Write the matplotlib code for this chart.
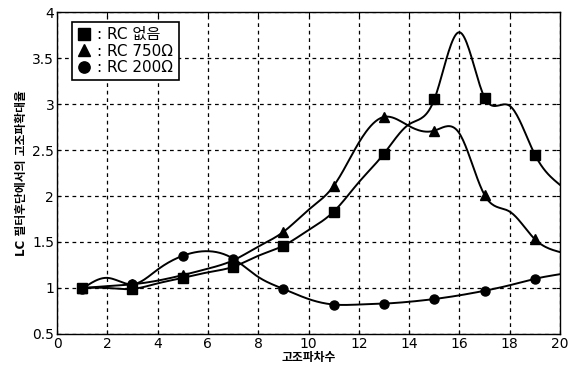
import numpy as np
import matplotlib.pyplot as plt

plt.rcParams["font.family"] = ["DejaVu Sans", "Noto Sans CJK KR"]
plt.rcParams["font.size"] = 10

# Harmonic order (1..20) and amplification factor at LC filter output
harmonic = np.arange(1, 21)

no_rc = [1.00, 1.00, 0.99, 1.05, 1.11, 1.17, 1.23, 1.35, 1.46, 1.63,
         1.83, 2.15, 2.46, 2.78, 3.05, 3.78, 3.07, 2.98, 2.45, 2.12]
rc_750 = [1.00, 1.02, 1.04, 1.08, 1.14, 1.21, 1.30, 1.45, 1.61, 1.85,
          2.11, 2.58, 2.86, 2.76, 2.71, 2.68, 2.01, 1.83, 1.53, 1.39]
rc_200 = [0.99, 1.11, 1.04, 1.20, 1.35, 1.40, 1.32, 1.12, 0.99, 0.88,
          0.82, 0.82, 0.83, 0.85, 0.88, 0.92, 0.97, 1.03, 1.10, 1.15]

series = [
    (no_rc, "s", ": RC 없음"),
    (rc_750, "^", ": RC 750Ω"),
    (rc_200, "o", ": RC 200Ω"),
]


def natural_spline(x, y, n=400):
    x = np.asarray(x, float)
    y = np.asarray(y, float)
    h = np.diff(x)
    m = len(x)
    A = np.zeros((m, m))
    b = np.zeros(m)
    A[0, 0] = A[-1, -1] = 1.0
    for i in range(1, m - 1):
        A[i, i - 1] = h[i - 1]
        A[i, i] = 2 * (h[i - 1] + h[i])
        A[i, i + 1] = h[i]
        b[i] = 3 * ((y[i + 1] - y[i]) / h[i] - (y[i] - y[i - 1]) / h[i - 1])
    c = np.linalg.solve(A, b)
    xs = np.linspace(x[0], x[-1], n)
    k = np.clip(np.searchsorted(x, xs) - 1, 0, m - 2)
    dx = xs - x[k]
    bb = (y[k + 1] - y[k]) / h[k] - h[k] * (2 * c[k] + c[k + 1]) / 3
    d = (c[k + 1] - c[k]) / (3 * h[k])
    return xs, y[k] + bb * dx + c[k] * dx ** 2 + d * dx ** 3


fig = plt.figure(figsize=(5.68, 3.65), dpi=100)
ax = fig.add_axes([0.1004, 0.085, 0.8856, 0.882])

for vals, marker, label in series:
    xs, ys = natural_spline(harmonic, vals)
    ax.plot(xs, ys, color="black", lw=1.4)
    ax.plot(harmonic[::2], np.asarray(vals)[::2], linestyle="none",
            marker=marker, color="black", markersize=6.5, label=label)

ax.set_xlim(0, 20)
ax.set_ylim(0.5, 4)
ax.set_xticks(np.arange(0, 21, 2))
ax.set_yticks([0.5, 1, 1.5, 2, 2.5, 3, 3.5, 4])
ax.set_yticklabels(["0.5", "1", "1.5", "2", "2.5", "3", "3.5", "4"])
ax.tick_params(direction="in", top=True, right=True, length=3, labelsize=10, pad=2)
ax.grid(True, color="black", linestyle=(0, (3, 3)), linewidth=0.9)
for s in ax.spines.values():
    s.set_linewidth(1.0)

ax.set_xlabel("고조파차수", fontsize=8.5, fontweight="bold", labelpad=0)
ax.set_ylabel("LC 필터후단에서의 고조파확대율", fontsize=8.5, fontweight="bold", labelpad=3)

leg = ax.legend(loc="upper left", bbox_to_anchor=(0.03, 0.97), fontsize=11,
                handlelength=0.8, handletextpad=0.5, labelspacing=0.1,
                borderpad=0.35, borderaxespad=0, markerscale=1.25,
                fancybox=False, framealpha=1)
leg.get_frame().set_edgecolor("black")
leg.get_frame().set_linewidth(1.2)

fig.savefig("out.png", dpi=100)
